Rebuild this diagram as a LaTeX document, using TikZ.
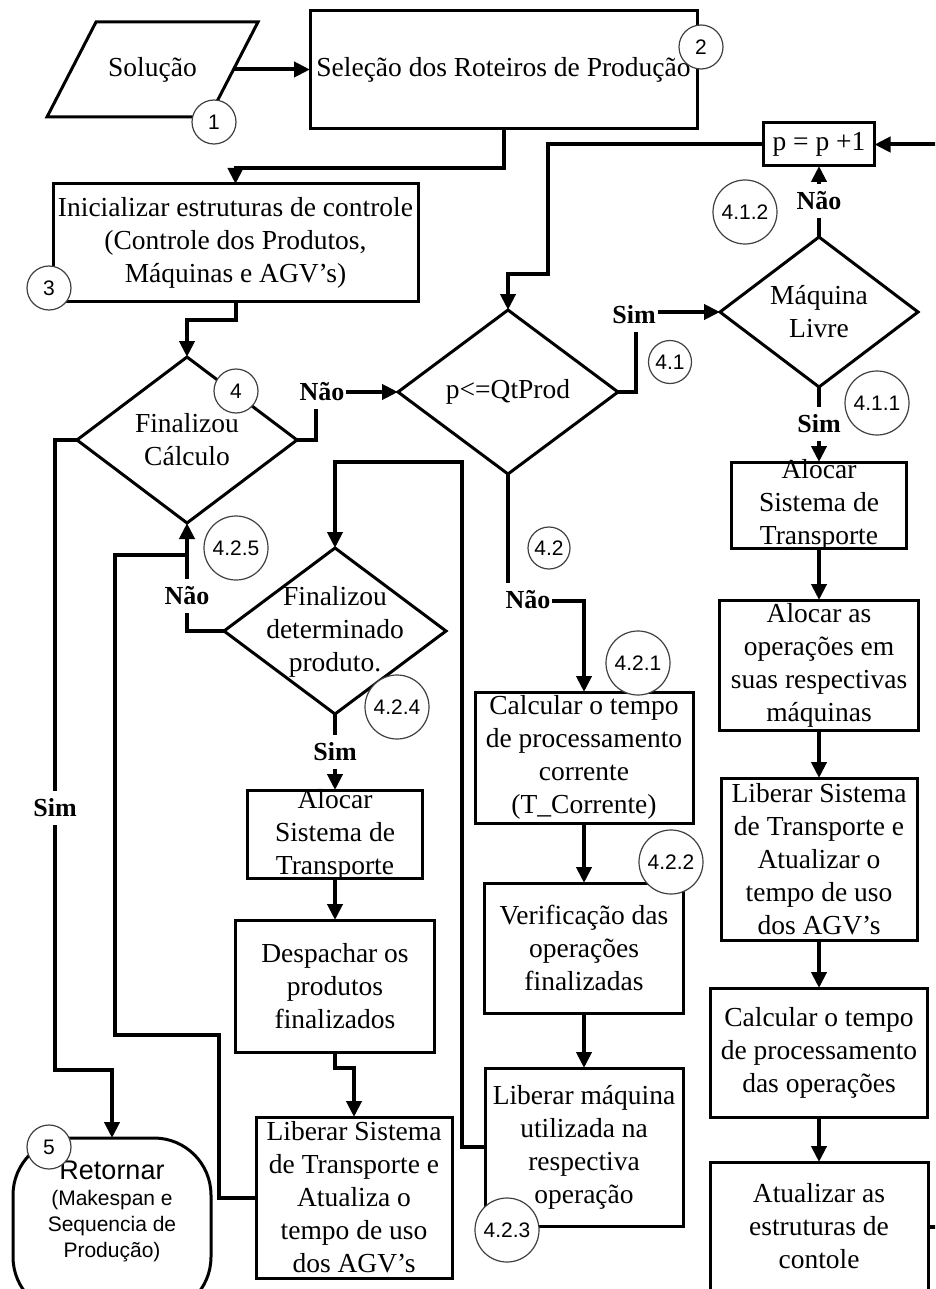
\documentclass[tikz,border=0pt]{standalone}
\usepackage{fontspec}
\setmainfont{Liberation Serif}
\newfontfamily\numfont{Liberation Sans}
\usetikzlibrary{arrows.meta,shapes.geometric}

\begin{document}
\begin{tikzpicture}[x=1pt,y=-1pt,
  every node/.style={inner sep=0pt, outer sep=0pt},
  box/.style={draw, line width=3pt, rectangle, align=center,
              font=\fontsize{27.5}{33}\selectfont},
  dec/.style={draw, line width=3pt, diamond},
  txt/.style={align=center, font=\fontsize{27.5}{33}\selectfont},
  lab/.style={fill=white, font=\bfseries\fontsize{26}{30}\selectfont,
              inner xsep=2pt, inner ysep=8pt},
  conn/.style={line width=4pt, -{Triangle[length=16pt,width=15pt]}},
  wire/.style={line width=4pt},
  tag/.style={circle, draw=black!75, line width=1.2pt, fill=white,
              font=\numfont\fontsize{21}{24}\selectfont},
  small tag/.style={tag, minimum size=44pt},
  big tag/.style={tag, minimum size=64pt},
]
\useasboundingbox (0,0) rectangle (935,1289);
\clip (0,0) rectangle (935,1289);

% ---------- input parallelogram ----------
\coordinate (solBL) at (47,117);
\coordinate (solTL) at (96,22);
\coordinate (solTR) at (258,22);
\coordinate (solBR) at (209,117);
\coordinate (solOut) at (233,69.5);
\draw[line width=3pt, line join=miter] (solBL) -- (solTL) -- (solTR) -- (solBR) -- cycle;
\node[txt] (sol) at (152.5,69.5) {Solução};

% ---------- top row ----------
\node[box, minimum width=387pt, minimum height=118pt] (sel) at (503.5,69.5)
  {Seleção dos Roteiros de Produção};
\node[box, minimum width=365pt, minimum height=117pt] (ini) at (235.5,242.5)
  {Inicializar estruturas de controle\\(Controle dos Produtos,\\Máquinas e AGV’s)};

% ---------- decisions ----------
\node[dec, minimum width=220pt, minimum height=166pt] (fc) at (187,440) {};
\node[txt] (fc-t) at (187,440) {Finalizou\\Cálculo};
\node[dec, minimum width=220pt, minimum height=164pt] (pq) at (508,392) {};
\node[txt] (pq-t) at (508,392) {p<=QtProd};
\node[dec, minimum width=198pt, minimum height=150pt] (ml) at (819,312) {};
\node[txt] (ml-t) at (819,312) {Máquina\\Livre};
\node[dec, minimum width=222pt, minimum height=166pt] (fdp) at (335,631) {};
\node[txt] (fdp-t) at (335,632) {Finalizou\\determinado\\produto.};

\node[box, minimum width=111pt, minimum height=43pt] (pp) at (819,144.5) {p = p +1};

% ---------- right column ----------
\node[box, minimum width=175pt, minimum height=86pt] (ast1) at (819,505) {};
\node[txt] (ast1-t) at (819,505) {Alocar\\Sistema de\\Transporte};
\node[box, minimum width=199pt, minimum height=130pt] (aop) at (819,665)
  {Alocar as\\operações em\\suas respectivas\\máquinas};
\node[box, minimum width=196pt, minimum height=162pt] (lst) at (819,859)
  {Liberar Sistema\\de Transporte e\\Atualizar o\\tempo de uso\\dos AGV’s};
\node[box, minimum width=217pt, minimum height=129pt] (cpo) at (819,1052.5)
  {Calcular o tempo\\de processamento\\das operações};
\node[box, minimum width=218pt, minimum height=129pt] (aes) at (819,1226.5)
  {Atualizar as\\estruturas de\\contole};

% ---------- middle column ----------
\node[box, minimum width=218pt, minimum height=131pt] (ctc) at (584,757.5)
  {Calcular o tempo\\de processamento\\corrente\\(T\_Corrente)};
\node[box, minimum width=199pt, minimum height=130pt] (ver) at (584,948)
  {Verificação das\\operações\\finalizadas};
\node[box, minimum width=198pt, minimum height=158pt] (lmq) at (584,1147)
  {Liberar máquina\\utilizada na\\respectiva\\operação};

% ---------- left-middle column ----------
\node[box, minimum width=175pt, minimum height=88pt] (ast2) at (335,834) {};
\node[txt] (ast2-t) at (335,835) {Alocar\\Sistema de\\Transporte};
\node[box, minimum width=199pt, minimum height=132pt] (des) at (335,986)
  {Despachar os\\produtos\\finalizados};
\node[box, minimum width=196pt, minimum height=161pt] (lsa) at (354,1197.5)
  {Liberar Sistema\\de Transporte e\\Atualiza o\\tempo de uso\\dos AGV’s};

% ---------- terminator ----------
\node[draw, line width=3pt, rounded corners=57pt, minimum width=198pt,
      minimum height=176pt] (ret) at (112,1226) {};
\node[align=center, font=\numfont\fontsize{21}{26}\selectfont] (ret-t) at (112,1211)
  {{\fontsize{27}{26}\selectfont Retornar}\\(Makespan e\\Sequencia de\\Produção)};

% ---------- connectors ----------
\draw[conn] (solOut) -- (sel.west |- solOut);
\draw[conn] (sel.south) -- ++(0,40) -| (ini.north);
\draw[conn] (ini.south) -- ++(0,19) -| (fc.north);
\draw[conn] (fc.east) -- ++(19,0) |- (pq.west)
  node[lab] (n1) at (322,392) {Não};
\draw[conn] (fc.west) -- (55,440) -- (55,1070) -- (112,1070) -- (ret.north)
  node[lab] (s0) at (55,808) {Sim};
\draw[conn] (pp.west) -| (548,274) -| (pq.north);
\draw[conn] (pq.east) -- ++(18,0) |- (ml.west)
  node[lab] (s1) at (634,315) {Sim};
\draw[conn] (ml.north) -- (pp.south)
  node[lab] (n2) at (819,201) {Não};
\draw[conn] (ml.south) -- (ast1.north)
  node[lab] (s2) at (819,424) {Sim};
\draw[conn] (ast1.south) -- (aop.north);
\draw[conn] (aop.south) -- (lst.north);
\draw[conn] (lst.south) -- (cpo.north);
\draw[conn] (cpo.south) -- (aes.north);
\draw[conn] (aes.east) -| (945,144.5) -- (pp.east);

\draw[conn] (pq.south) |- (584,601) -- (ctc.north)
  node[lab] (n3) at (528,600) {Não};
\draw[conn] (ctc.south) -- (ver.north);
\draw[conn] (ver.south) -- (lmq.north);
\draw[conn] (lmq.west) -| (462,462) -| (fdp.north);

\draw[conn] (fdp.south) -- (ast2.north)
  node[lab] (s3) at (335,752) {Sim};
\draw[conn] (ast2.south) -- (des.north);
\draw[conn] (des.south) -- ++(0,16) -| (lsa.north);
\draw[conn] (fdp.west) -| (fc.south)
  node[lab] (n4) at (187,596) {Não};
\draw[wire] (lsa.west) -| (219,1035) -| (115,555) -- (189,555);

% ---------- step numbers ----------
\node[small tag] (t1) at (214,122) {1};
\node[small tag] (t2) at (701,47) {2};
\node[small tag] (t3) at (49,288) {3};
\node[small tag] (t4) at (236,391) {4};
\node[small tag] (t5) at (49,1147) {5};
\node[tag, minimum size=43pt] (t41) at (670,362) {4.1};
\node[tag, minimum size=42pt] (t42) at (549,548) {4.2};
\node[big tag] (t411) at (877,403) {4.1.1};
\node[big tag] (t412) at (745,212) {4.1.2};
\node[big tag] (t421) at (638,663) {4.2.1};
\node[big tag] (t422) at (671,862) {4.2.2};
\node[big tag] (t423) at (507,1230) {4.2.3};
\node[big tag] (t424) at (397,707) {4.2.4};
\node[big tag] (t425) at (236,548) {4.2.5};
\end{tikzpicture}
\end{document}
